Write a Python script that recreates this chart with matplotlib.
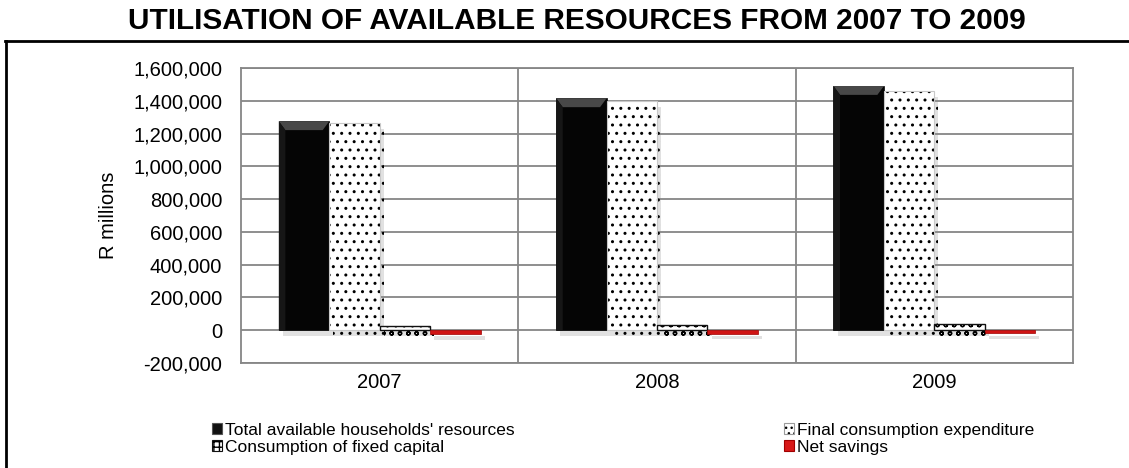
import matplotlib
matplotlib.use("Agg")
import matplotlib.pyplot as plt
import matplotlib.patheffects as pe
from matplotlib.patches import Polygon, Patch
from matplotlib.lines import Line2D
from matplotlib.ticker import FuncFormatter, MultipleLocator
import numpy as np

plt.rcParams['font.family'] = ['Liberation Sans', 'DejaVu Sans']

# Household resources and their use (R millions)
years = ['2007', '2008', '2009']
total_resources = [1275000, 1415000, 1490000]
final_consumption = [1262000, 1398000, 1458000]
fixed_capital = [28000, 31000, 37000]
net_savings = [-26000, -22000, -17000]

series_labels = ["Total available households' resources",
                 "Final consumption expenditure",
                 "Consumption of fixed capital",
                 "Net savings"]

W, H, DPI = 1129, 468, 100
fig = plt.figure(figsize=(W / DPI, H / DPI), dpi=DPI)
ax = fig.add_axes([241 / W, 1 - 363 / H, (1073 - 241) / W, (363 - 68) / H])

grid_col = '#868686'
x = np.arange(len(years))
bw = 1 / 5.5
offsets = (np.arange(4) - 1.5) * bw

shadow = [pe.SimplePatchShadow(offset=(3, -4), shadow_rgbFace='#8a8a8a', alpha=0.25),
          pe.Normal()]

b_total = ax.bar(x + offsets[0], total_resources, bw, color='#050505',
                 edgecolor='#050505', linewidth=0.5, zorder=3, path_effects=shadow)
with plt.rc_context({'hatch.linewidth': 1.0, 'hatch.color': 'black'}):
    b_final = ax.bar(x + offsets[1], final_consumption, bw, color='white',
                     edgecolor='#c8c8c8', hatch='..', linewidth=0.8, zorder=3,
                     path_effects=shadow)
with plt.rc_context({'hatch.linewidth': 1.0, 'hatch.color': 'black'}):
    b_fixed = ax.bar(x + offsets[2], fixed_capital, bw, color='white',
                     edgecolor='#111111', hatch='oo', linewidth=1.0, zorder=3,
                     path_effects=shadow)
b_sav = ax.bar(x + offsets[3], net_savings, bw, color='#d01414',
               edgecolor='#a00000', linewidth=0.5, zorder=3, path_effects=shadow)

for bars in (b_final, b_fixed):
    for p in bars:
        if hasattr(p, 'set_hatch_linewidth'):
            p.set_hatch_linewidth(1.0)
        p._hatch_color = (0, 0, 0, 1)

# bevelled top edge on the solid bars
for p in b_total:
    x0, y0, w, h = p.get_x(), p.get_y(), p.get_width(), p.get_height()
    d = w * 0.13
    dy = 0.03 * 1.8e6
    ax.add_patch(Polygon([[x0, y0 + h], [x0 + w, y0 + h], [x0 + w - d, y0 + h - dy],
                          [x0 + d, y0 + h - dy]], closed=True, facecolor='#484848',
                         edgecolor='none', zorder=4))
    ax.add_patch(Polygon([[x0, y0 + h], [x0 + d, y0 + h - dy], [x0 + d, y0], [x0, y0]],
                         closed=True, facecolor='#161616', edgecolor='none', zorder=4))

ax.set_xlim(-0.5, 2.5)
ax.set_ylim(-200000, 1600000)
ax.yaxis.set_major_locator(MultipleLocator(200000))
ax.yaxis.set_major_formatter(FuncFormatter(lambda v, _: f"{int(v):,}"))
ax.set_xticks(x)
ax.set_xticklabels(years)
ax.tick_params(axis='both', length=0, labelsize=14.5, colors='black')
ax.tick_params(axis='x', pad=7)
ax.tick_params(axis='y', pad=13.5)
ax.grid(axis='y', color=grid_col, linewidth=1.3, zorder=0)
for xv in [0.5, 1.5]:
    ax.axvline(xv, color=grid_col, linewidth=1.3, zorder=0)
for s in ax.spines.values():
    s.set_color(grid_col)
    s.set_linewidth(1.3)
ax.set_ylabel('R millions', fontsize=14.5, labelpad=11)

fig.text(577 / W, 1 - 21 / H, 'UTILISATION OF AVAILABLE RESOURCES FROM 2007 TO 2009',
         ha='center', va='center', fontsize=21.4, fontweight='bold')

# outer frame
fig.add_artist(Line2D([5.5 / W, 5.5 / W], [0, 1 - 41 / H], color='black', lw=2,
                      transform=fig.transFigure))
fig.add_artist(Line2D([5 / W, 1], [1 - 41 / H, 1 - 41 / H], color='black', lw=2,
                      transform=fig.transFigure))

# legend keys
with plt.rc_context({'hatch.linewidth': 0.9}):
    k_total = Patch(facecolor='#111111', edgecolor='#555555', linewidth=0.8)
    k_final = Patch(facecolor='white', edgecolor='#9a9a9a', hatch='...', linewidth=0.8)
    k_fixed = Patch(facecolor='white', edgecolor='#111111', hatch='+++', linewidth=0.8)
    k_sav = Patch(facecolor='#d81818', edgecolor='#a00000', linewidth=0.8)
k_final._hatch_color = (0, 0, 0, 1)
k_fixed._hatch_color = (0, 0, 0, 1)

leg_kw = dict(frameon=False, fontsize=12.5, handlelength=0.6, handleheight=0.6,
              handletextpad=0.15, labelspacing=0.12, borderpad=0, borderaxespad=0)
fig.legend([k_total, k_fixed], [series_labels[0], series_labels[2]],
           loc='upper left', bbox_to_anchor=(212 / W, 1 - 423 / H), **leg_kw)
fig.legend([k_final, k_sav], [series_labels[1], series_labels[3]],
           loc='upper left', bbox_to_anchor=(784 / W, 1 - 423 / H), **leg_kw)

fig.savefig('out.png', dpi=DPI, facecolor='white')
